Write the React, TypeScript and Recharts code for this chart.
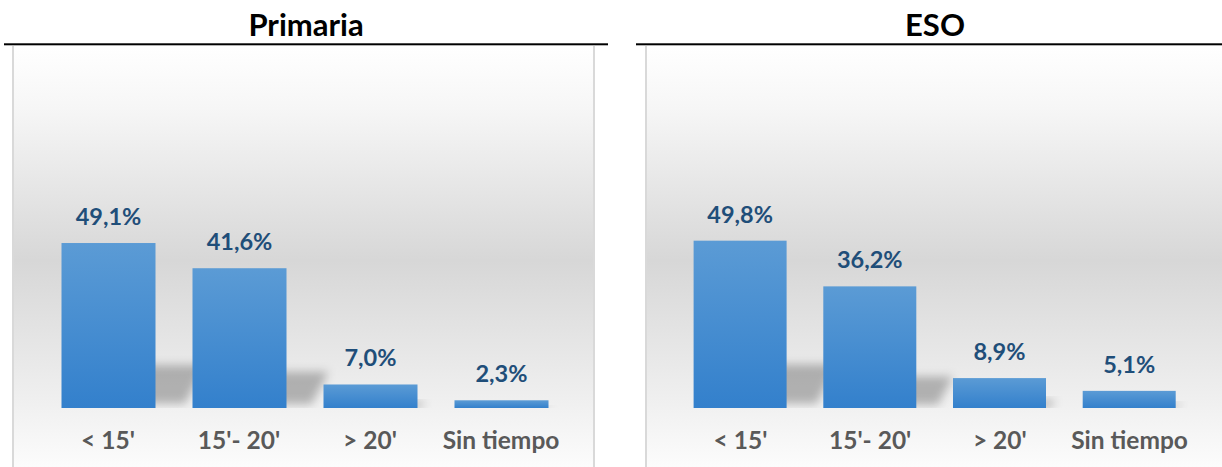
import React from 'react';
import { BarChart, Bar, XAxis, YAxis, LabelList } from 'recharts';

const categories = ["< 15'", "15'- 20'", "> 20'", "Sin tiempo"];
const primariaValues = [49.1, 41.6, 7.0, 2.3];
const esoValues = [49.8, 36.2, 8.9, 5.1];
const titles = ['Primaria', 'ESO'];

const primariaData = categories.map((c, i) => ({ cat: c, value: primariaValues[i] }));
const esoData = categories.map((c, i) => ({ cat: c, value: esoValues[i] }));

const FONT = 'Lato, "Open Sans", sans-serif';
const fmt = (v: number) => v.toFixed(1).replace('.', ',') + '%';

const makeShape = (gid: string) => (props: any) => {
  const { x, y, width, height, index } = props;
  const base = y + height;
  const sh = height * 0.26;
  const dx = height * 0.3;
  const clipId = `${gid}-clip-${index}`;
  return (
    <g>
      <clipPath id={clipId}>
        <rect x={x} y={base - sh - 30} width={width + dx + 60} height={sh + 30} />
      </clipPath>
      <polygon
        points={`${x + dx * 0.6},${base - sh * 0.1} ${x + width + dx * 0.6},${base - sh * 0.1} ${x + width + dx},${base - sh} ${x + dx},${base - sh}`}
        fill="#000"
        fillOpacity={0.26}
        filter={`url(#${gid}-blur)`}
        clipPath={`url(#${clipId})`}
      />
      <rect x={x} y={y} width={width} height={height} fill={`url(#${gid}-grad)`} />
    </g>
  );
};

const ValueLabel = (props: any) => {
  const { x, y, width, value } = props;
  return (
    <text x={x + width / 2} y={y - 18} textAnchor="middle" fill="#1F4E79" fontFamily={FONT} fontWeight={700} fontSize={23.5}>
      {fmt(Number(value))}
    </text>
  );
};

const Tick = (props: any) => {
  const { x, y, payload } = props;
  return (
    <text x={x} y={y + 41} textAnchor="middle" fill="#595959" fontFamily={FONT} fontWeight={700} fontSize={24.5}>
      {payload.value}
    </text>
  );
};

const Panel = ({ data, gid, left, width, margin, barSize }: any) => (
  <div style={{ position: 'absolute', left, top: 0, width, height: 467 }}>
    <BarChart width={width} height={467} data={data} margin={margin}>
      <defs>
        <linearGradient id={`${gid}-grad`} x1="0" y1="0" x2="0" y2="1">
          <stop offset="0%" stopColor="#5B9BD5" />
          <stop offset="100%" stopColor="#3380CC" />
        </linearGradient>
        <filter id={`${gid}-blur`} x="-50%" y="-50%" width="200%" height="200%">
          <feGaussianBlur stdDeviation="5" />
        </filter>
      </defs>
      <XAxis dataKey="cat" axisLine={false} tickLine={false} tickSize={0} tickMargin={0} height={59} interval={0} tick={<Tick />} />
      <YAxis hide domain={[0, 100]} />
      <Bar dataKey="value" barSize={barSize} isAnimationActive={false} shape={makeShape(gid)}>
        <LabelList dataKey="value" content={<ValueLabel />} />
      </Bar>
    </BarChart>
  </div>
);

const bgGradient = 'linear-gradient(to bottom, #ffffff 0%, #f6f6f6 15%, #d7d7d7 51%, #f0f0f0 85%, #fcfcfc 100%)';

export default function App() {
  return (
    <div style={{ position: 'absolute', left: 0, top: 0, width: 1222, height: 467, overflow: 'hidden', background: '#fff' }}>
      <div style={{ position: 'absolute', left: 12, top: 46, width: 579, height: 421, background: bgGradient, borderLeft: '2px solid #d9d9d9', borderRight: '2px solid #d9d9d9' }} />
      <div style={{ position: 'absolute', left: 645, top: 46, width: 600, height: 421, background: bgGradient, borderLeft: '2px solid #d9d9d9' }} />
      <Panel data={primariaData} gid="p" left={0} width={620} margin={{ top: 72, right: 53.5, bottom: 0, left: 42.5 }} barSize={94} />
      <Panel data={esoData} gid="e" left={620} width={602} margin={{ top: 72, right: 27.6, bottom: 0, left: 55.6 }} barSize={93} />
      <svg style={{ position: 'absolute', left: 0, top: 0 }} width={1222} height={50}>
        <rect x={4} y={43.3} width={604} height={2} fill="#000" />
        <rect x={636} y={43.3} width={586} height={2} fill="#000" />
        <text x={306} y={36} textAnchor="middle" fontFamily={FONT} fontWeight={700} fontSize={31} fill="#000">{titles[0]}</text>
        <text x={935} y={36} textAnchor="middle" fontFamily={FONT} fontWeight={700} fontSize={31} fill="#000">{titles[1]}</text>
      </svg>
    </div>
  );
}
